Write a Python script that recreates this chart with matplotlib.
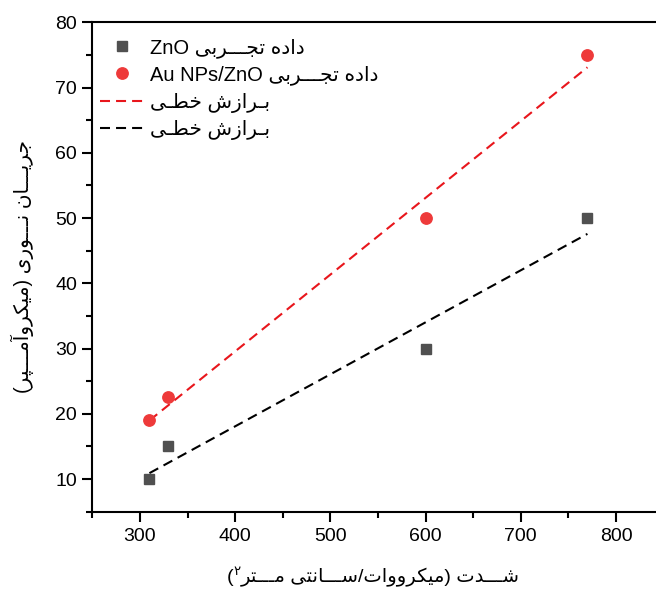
import matplotlib
matplotlib.use("Agg")
import matplotlib.pyplot as plt
from matplotlib.ticker import MultipleLocator
import numpy as np

# ---------------- data ----------------
intensity = [310, 330, 600, 770]
zno_current = [10, 15, 30, 50]
au_current = [19, 22.5, 50, 75]

label_zno = "داده تجـــربی ZnO"
label_au = "داده تجـــربی Au NPs/ZnO"
label_fit = "بـرازش خطـی"
xlabel_text = "شـــدت (میکرووات/ســـانتی مـــتر۲)"
ylabel_text = "جریـــان نـــوری (میکروآمـــپر)"

# ---------------- minimal Persian shaping + bidi ----------------
FORMS = {
    '\u0627': ('\uFE8D', '\uFE8E', None, None),
    '\u0622': ('\uFE81', '\uFE82', None, None),
    '\u0628': ('\uFE8F', '\uFE90', '\uFE91', '\uFE92'),
    '\u067E': ('\uFB56', '\uFB57', '\uFB58', '\uFB59'),
    '\u062A': ('\uFE95', '\uFE96', '\uFE97', '\uFE98'),
    '\u062C': ('\uFE9D', '\uFE9E', '\uFE9F', '\uFEA0'),
    '\u062E': ('\uFEA5', '\uFEA6', '\uFEA7', '\uFEA8'),
    '\u062F': ('\uFEA9', '\uFEAA', None, None),
    '\u0631': ('\uFEAD', '\uFEAE', None, None),
    '\u0632': ('\uFEAF', '\uFEB0', None, None),
    '\u0633': ('\uFEB1', '\uFEB2', '\uFEB3', '\uFEB4'),
    '\u0634': ('\uFEB5', '\uFEB6', '\uFEB7', '\uFEB8'),
    '\u0637': ('\uFEC1', '\uFEC2', '\uFEC3', '\uFEC4'),
    '\u06A9': ('\uFB8E', '\uFB8F', '\uFB90', '\uFB91'),
    '\u0645': ('\uFEE1', '\uFEE2', '\uFEE3', '\uFEE4'),
    '\u0646': ('\uFEE5', '\uFEE6', '\uFEE7', '\uFEE8'),
    '\u0647': ('\uFEE9', '\uFEEA', '\uFEEB', '\uFEEC'),
    '\u0648': ('\uFEED', '\uFEEE', None, None),
    '\u06CC': ('\uFBFC', '\uFBFD', '\uFBFE', '\uFBFF'),
}
TATWEEL = '\u0640'


def _dual(c):
    return c == TATWEEL or (c in FORMS and FORMS[c][2] is not None)


def _joins(c):
    return c == TATWEEL or c in FORMS


def shape(s):
    out = []
    for i, c in enumerate(s):
        if c not in FORMS:
            out.append(c)
            continue
        prev = s[i - 1] if i > 0 else None
        nxt = s[i + 1] if i + 1 < len(s) else None
        jp = prev is not None and _dual(prev)
        jn = _dual(c) and nxt is not None and _joins(nxt)
        iso, fin, ini, med = FORMS[c]
        if jp and jn:
            out.append(med)
        elif jp:
            out.append(fin)
        elif jn:
            out.append(ini)
        else:
            out.append(iso)
    return ''.join(out)


MIRROR = {'(': ')', ')': '('}


def _cls(c):
    if c.isascii() and c.isalnum():
        return 'L'
    if ('\u0600' <= c <= '\u06FF') or ('\uFB50' <= c <= '\uFEFF'):
        return 'R'
    return 'N'


def visual(s):
    s = shape(s)
    cls = [_cls(c) for c in s]
    n = len(s)
    res = []
    for i in range(n):
        if cls[i] != 'N':
            res.append(cls[i])
            continue
        left = next((cls[j] for j in range(i - 1, -1, -1) if cls[j] != 'N'), 'R')
        right = next((cls[j] for j in range(i + 1, n) if cls[j] != 'N'), 'R')
        res.append('L' if (left == 'L' and right == 'L') else 'R')
    runs = []
    for c, k in zip(s, res):
        if runs and runs[-1][0] == k:
            runs[-1][1].append(c)
        else:
            runs.append([k, [c]])
    parts = []
    for k, chars in reversed(runs):
        if k == 'R':
            parts.append(''.join(MIRROR.get(c, c) for c in reversed(chars)))
        else:
            parts.append(''.join(chars))
    return ''.join(parts)


# ---------------- figure ----------------
FAM = ['Liberation Sans', 'DejaVu Sans']
plt.rcParams['font.family'] = FAM
plt.rcParams['axes.linewidth'] = 1.5

fig = plt.figure(figsize=(6.56, 5.91), dpi=100)
ax = fig.add_axes([0.1407, 0.1342, 0.8709, 0.8281])

sq_color = '#505050'
ci_color = '#ee3a3a'
red_line = '#e8161c'

ax.plot(intensity, zno_current, 's', color=sq_color, ms=7.2, ls='none',
        label=visual(label_zno), zorder=3)
ax.plot(intensity, au_current, 'o', color=ci_color, ms=8.2, ls='none',
        label=visual(label_au), zorder=3)

xs = np.array(intensity, dtype=float)
p_au = np.polyfit(xs, au_current, 1)
p_zn = np.polyfit(xs, zno_current, 1)
xf = np.array([min(intensity), max(intensity)], dtype=float)
ax.plot(xf, np.polyval(p_au, xf), color=red_line, lw=1.5,
        ls=(0, (4.8, 2.9)), label=visual(label_fit), zorder=2)
ax.plot(xf, np.polyval(p_zn, xf), color='black', lw=1.5,
        ls=(0, (4.8, 2.9)), label=visual(label_fit), zorder=2)

ax.set_xlim(250, 850)
ax.set_ylim(5, 80)
ax.xaxis.set_major_locator(MultipleLocator(100))
ax.xaxis.set_minor_locator(MultipleLocator(50))
ax.yaxis.set_major_locator(MultipleLocator(10))
ax.yaxis.set_minor_locator(MultipleLocator(5))
ax.tick_params(which='major', direction='out', length=7, width=1.5,
               labelsize=14, pad=5)
ax.tick_params(which='minor', direction='out', length=4, width=1.5)
ax.tick_params(axis='y', which='major', pad=4)

leg = ax.legend(loc='upper left', bbox_to_anchor=(0.0135, 0.968),
                borderaxespad=0, borderpad=0, frameon=False,
                fontsize=14.5, handlelength=2.15, handletextpad=0.35,
                labelspacing=0.38, numpoints=1)

ax.set_ylabel(visual(ylabel_text), fontsize=14.5, labelpad=15)

# x label in pieces so that the Persian "2" can be raised
vx = visual(xlabel_text)
pieces = [(vx[0], 14, 0), (vx[1], 9.5, 7), (vx[2:], 14, 0)]
texts = [fig.text(0, 0, t, fontsize=fs, ha='left', va='baseline')
         for t, fs, dy in pieces]
fig.canvas.draw()
r = fig.canvas.get_renderer()
widths = [t.get_window_extent(r).width for t in texts]
W, H = fig.bbox.width, fig.bbox.height
axbb = ax.get_position()
cx = (axbb.x0 + axbb.x1) / 2 * W - 5
x = cx - sum(widths) / 2
base = H - 582
for t, w, (s, fs, dy) in zip(texts, widths, pieces):
    t.set_position((x / W, (base + dy) / H))
    x += w

fig.savefig('out.png', dpi=100)
